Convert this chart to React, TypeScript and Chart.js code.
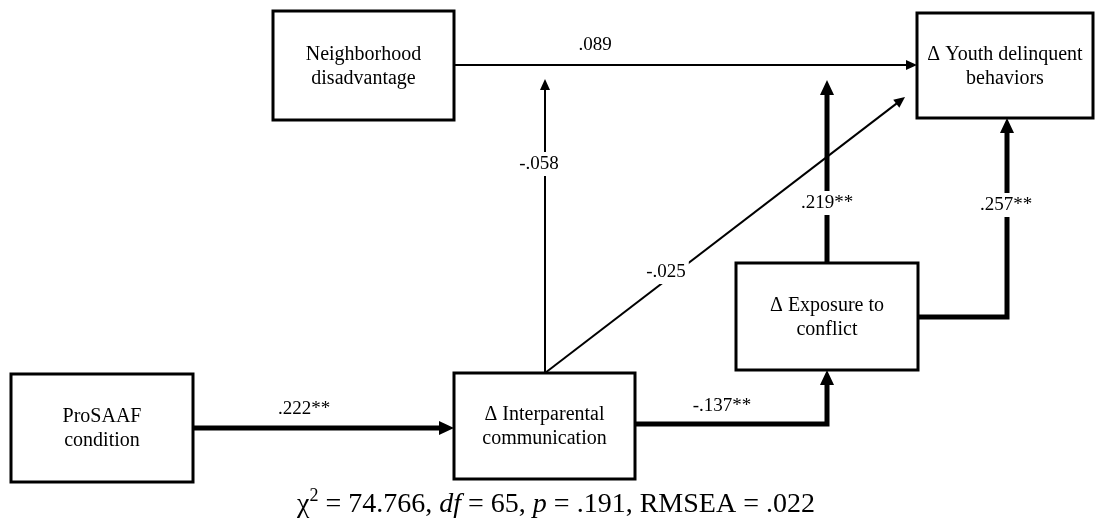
import React, { useEffect, useRef } from 'react';
import { Chart, registerables } from 'chart.js';

Chart.register(...registerables);

// ---- Data ----
const nodeIds = ['pro', 'inter', 'expo', 'neigh', 'youth'];
const nodeLabels = [
  ['ProSAAF', 'condition'],
  ['\u0394 Interparental', 'communication'],
  ['\u0394 Exposure to', 'conflict'],
  ['Neighborhood', 'disadvantage'],
  ['\u0394 Youth delinquent', 'behaviors'],
];
const pathFrom = ['neigh', 'inter', 'inter', 'expo', 'expo', 'pro', 'inter'];
const pathTo = ['youth', 'neigh-youth', 'youth', 'youth', 'youth', 'inter', 'expo'];
const pathCoef = ['.089', '-.058', '-.025', '.219**', '.257**', '.222**', '-.137**'];
const fitChi2 = '74.766';
const fitDf = '65';
const fitP = '.191';
const fitRmsea = '.022';

// ---- Layout (diagram coordinates) ----
const nodeLeft = [11, 454, 736, 273, 917];
const nodeTop = [374, 373, 263, 11, 13];
const nodeRight = [193, 635, 918, 454, 1093];
const nodeBottom = [482, 479, 370, 120, 118];
const pathRoutes: number[][][] = [
  [[454, 65], [917, 65]],
  [[545, 373], [545, 79]],
  [[545, 373], [905, 97]],
  [[827, 263], [827, 80]],
  [[918, 317], [1007, 317], [1007, 118]],
  [[193, 428], [454, 428]],
  [[635, 424], [827, 424], [827, 370]],
];
const pathLabelPos = [
  [595, 45],
  [539, 164],
  [666, 272],
  [827, 203],
  [1006, 205],
  [304, 409],
  [722, 406],
];
const footerPos = [556, 512];

const SERIF = "'Liberation Serif', 'Times New Roman', serif";

function drawArrow(ctx: CanvasRenderingContext2D, pts: number[][], width: number, headLen: number, headHalf: number) {
  const n = pts.length;
  const [xa, ya] = pts[n - 2];
  const [xb, yb] = pts[n - 1];
  const dx = xb - xa, dy = yb - ya;
  const L = Math.hypot(dx, dy);
  const ux = dx / L, uy = dy / L;
  const bx = xb - ux * headLen, by = yb - uy * headLen;
  ctx.save();
  ctx.strokeStyle = '#000';
  ctx.fillStyle = '#000';
  ctx.lineWidth = width;
  ctx.lineJoin = 'miter';
  ctx.lineCap = 'butt';
  ctx.beginPath();
  ctx.moveTo(pts[0][0], pts[0][1]);
  for (let i = 1; i < n - 1; i++) ctx.lineTo(pts[i][0], pts[i][1]);
  ctx.lineTo(bx + ux * 1, by + uy * 1);
  ctx.stroke();
  ctx.beginPath();
  ctx.moveTo(xb, yb);
  ctx.lineTo(bx - uy * headHalf, by + ux * headHalf);
  ctx.lineTo(bx + uy * headHalf, by - ux * headHalf);
  ctx.closePath();
  ctx.fill();
  ctx.restore();
}

const diagramPlugin = {
  id: 'pathDiagram',
  afterDatasetsDraw(chart: any) {
    const ctx: CanvasRenderingContext2D = chart.ctx;
    const xs = chart.scales.x;
    const ys = chart.scales.y;
    const px = (v: number) => xs.getPixelForValue(v);
    const py = (v: number) => ys.getPixelForValue(v);

    // paths
    pathCoef.forEach((coef, i) => {
      const sig = coef.includes('*');
      const pts = pathRoutes[i].map(([x, y]) => [px(x), py(y)]);
      drawArrow(ctx, pts, sig ? 5 : 2, sig ? 15 : 11, sig ? 7 : 5);
    });

    // path labels
    ctx.save();
    ctx.font = `19px ${SERIF}`;
    ctx.textAlign = 'center';
    ctx.textBaseline = 'middle';
    pathCoef.forEach((coef, i) => {
      const x = px(pathLabelPos[i][0]);
      const y = py(pathLabelPos[i][1]);
      const w = ctx.measureText(coef).width;
      ctx.fillStyle = '#fff';
      ctx.fillRect(x - w / 2 - 3, y - 12, w + 6, 24);
      ctx.fillStyle = '#000';
      ctx.fillText(coef, x, y);
    });
    ctx.restore();

    // nodes
    ctx.save();
    nodeIds.forEach((id, i) => {
      const l = px(nodeLeft[i]), r = px(nodeRight[i]);
      const t = py(nodeTop[i]), b = py(nodeBottom[i]);
      ctx.fillStyle = '#fff';
      ctx.fillRect(l, t, r - l, b - t);
      ctx.strokeStyle = '#000';
      ctx.lineWidth = 3;
      ctx.strokeRect(l, t, r - l, b - t);
      ctx.fillStyle = '#000';
      ctx.font = `20px ${SERIF}`;
      ctx.textAlign = 'center';
      ctx.textBaseline = 'middle';
      const lines = nodeLabels[i];
      const lh = 24;
      const cx = (l + r) / 2;
      const cy = (t + b) / 2 + 1;
      lines.forEach((s, k) => {
        ctx.fillText(s, cx, cy + (k - (lines.length - 1) / 2) * lh);
      });
    });
    ctx.restore();

    // footer
    ctx.save();
    const segs: { t: string; italic?: boolean; sup?: boolean }[] = [
      { t: '\u03c7' },
      { t: '2', sup: true },
      { t: ` = ${fitChi2}, ` },
      { t: 'df', italic: true },
      { t: ` = ${fitDf}, ` },
      { t: 'p', italic: true },
      { t: ` = ${fitP}, RMSEA = ${fitRmsea}` },
    ];
    const fontFor = (s: any) => `${s.italic ? 'italic ' : ''}${s.sup ? 18 : 28}px ${SERIF}`;
    let total = 0;
    segs.forEach((s) => {
      ctx.font = fontFor(s);
      total += ctx.measureText(s.t).width;
    });
    let x = px(footerPos[0]) - total / 2;
    const base = py(footerPos[1]);
    ctx.textAlign = 'left';
    ctx.textBaseline = 'alphabetic';
    ctx.fillStyle = '#000';
    segs.forEach((s) => {
      ctx.font = fontFor(s);
      ctx.fillText(s.t, x, s.sup ? base - 11 : base);
      x += ctx.measureText(s.t).width;
    });
    ctx.restore();
  },
};

export default function App() {
  const ref = useRef<HTMLCanvasElement>(null);
  useEffect(() => {
    document.body.style.margin = '0';
    const canvas = ref.current;
    if (!canvas) return;
    const chart = new Chart(canvas, {
      type: 'scatter',
      data: {
        datasets: [
          {
            data: nodeIds.map((_, i) => ({
              x: (nodeLeft[i] + nodeRight[i]) / 2,
              y: (nodeTop[i] + nodeBottom[i]) / 2,
            })),
            pointRadius: 0,
          },
        ],
      },
      options: {
        responsive: false,
        animation: false,
        events: [],
        layout: { padding: 0 },
        plugins: { legend: { display: false }, tooltip: { enabled: false } },
        scales: {
          x: { type: 'linear', min: 0, max: 1095, display: false },
          y: { type: 'linear', min: 0, max: 518, reverse: true, display: false },
        },
      },
      plugins: [diagramPlugin],
    });
    return () => chart.destroy();
  }, []);
  return (
    <div style={{ width: 1095, height: 518, background: '#fff' }}>
      <canvas ref={ref} width={1095} height={518} style={{ display: 'block' }} />
    </div>
  );
}
